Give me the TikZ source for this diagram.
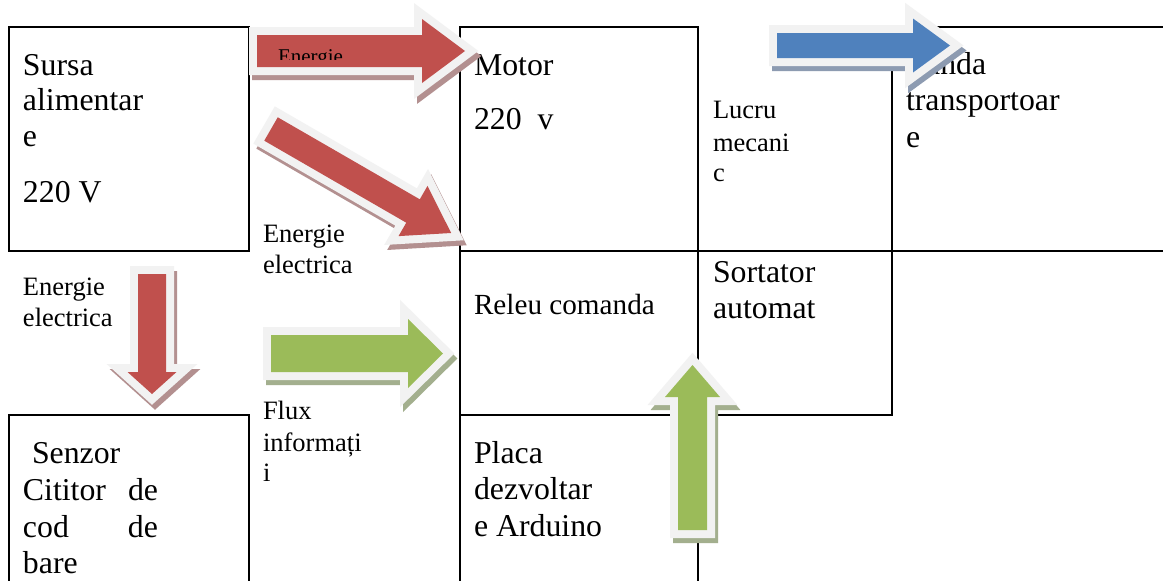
\documentclass[tikz,border=0pt]{standalone}
\usepackage{fontspec}
\setmainfont{Liberation Serif}
\definecolor{accred}{HTML}{C0504D}
\definecolor{accgreen}{HTML}{9BBB59}
\definecolor{accblue}{HTML}{4F81BD}
\definecolor{outl}{HTML}{F2F2F2}
\definecolor{shred}{HTML}{B39090}
\definecolor{shgreen}{HTML}{A3AF8E}
\definecolor{shblue}{HTML}{8D9BB1}
\newcommand\szbig{\fontsize{31.8pt}{36pt}\selectfont}
\newcommand\szmid{\fontsize{29.2pt}{34pt}\selectfont}
\newcommand\szsmall{\fontsize{26.5pt}{31pt}\selectfont}
\newcommand\sztiny{\fontsize{21pt}{24pt}\selectfont}
% polygon of a block arrow pointing along local +x, tail centre at origin
\newcommand\arrowpoly[5]{%
  \path[#1] (0,{-(#3)/2}) -- ({#2-(#5)},{-(#3)/2}) -- ({#2-(#5)},{-(#4)/2}) -- (#2,0)
    -- ({#2-(#5)},{(#4)/2}) -- ({#2-(#5)},{(#3)/2}) -- (0,{(#3)/2}) -- cycle;}
% #1 fill, #2 shadow, #3 #4 tail centre, #5 screen angle (clockwise), #6 length, #7 body width, #8 head width, #9 head length
\newcommand\blockarrow[9]{%
  \arrowpoly{draw=#2,fill=#2,line width=16pt,line join=miter,shift={({#3+3},{#4+5})},rotate={-(#5)}}{#6}{#7}{#8}{#9}
  \arrowpoly{draw=outl,fill=outl,line width=16pt,line join=miter,shift={(#3,#4)},rotate={-(#5)}}{#6}{#7}{#8}{#9}
  \arrowpoly{fill=#1,shift={(#3,#4)},rotate={-(#5)}}{#6}{#7}{#8}{#9}}
\begin{document}
\begin{tikzpicture}[x=1pt,y=-1pt,
  grid/.style={draw=black,line width=2pt},
  txt/.style={anchor=base west,inner sep=0pt,outer sep=0pt,font=\szbig},
  stxt/.style={txt,font=\szsmall}]
\useasboundingbox[fill=white] (0,0) rectangle (1163,581);
% table lines
\draw[grid] (9,27) rectangle (249,251);
\draw[grid] (9,582) -- (9,415) -- (249,415) -- (249,582);
\draw[grid] (460,582) -- (460,27) -- (698,27) -- (698,582);
\draw[grid] (460,251) -- (1164,251);
\draw[grid] (460,415) -- (892,415) -- (892,27) -- (1164,27);
% texts
\node[txt] (sursa1) at (23,75) {Sursa};
\node[txt] (sursa2) at (23,110) {alimentar};
\node[txt] (sursa3) at (23,146.5) {e};
\node[txt] (sursa4) at (23,202) {220 V};
\node[txt] (motor1) at (474,75) {Motor};
\node[txt] (motor2) at (474,129) {220~~v};
\node[txt] (banda1) at (905,74) {Banda};
\node[txt] (banda2) at (906,110) {transportoar};
\node[txt] (banda3) at (906,147) {e};
\node[stxt] (lucru1) at (713,118) {Lucru};
\node[stxt] (lucru2) at (713,151) {mecani};
\node[stxt] (lucru3) at (713,181) {c};
\node[txt] (sort1) at (713,282) {Sortator};
\node[txt] (sort2) at (713,318) {automat};
\node[txt,font=\szmid] (releu) at (474,314) {Releu comanda};
\node[txt] (placa1) at (474,463) {Placa};
\node[txt] (placa2) at (474,499) {dezvoltar};
\node[txt] (placa3) at (474,536) {e Arduino};
\node[txt] (senz1) at (32,463) {Senzor};
\node[txt] (senz2) at (23,500) {\makebox[135pt][s]{Cititor de}};
\node[txt] (senz3) at (23,537) {\makebox[135pt][s]{cod de}};
\node[txt] (senz4) at (23,573) {bare};
\node[stxt] (en1a) at (263,242) {Energie};
\node[stxt] (en1b) at (263,273) {electrica};
\node[stxt] (en2a) at (23,295) {Energie};
\node[stxt] (en2b) at (23,326) {electrica};
\node[stxt] (flux1) at (263,419) {Flux};
\node[stxt] (flux2) at (263,451) {informați};
\node[stxt] (flux3) at (263,481) {i};
% block arrows
\blockarrow{accred}{shred}{257}{51}{0}{208}{32}{64}{43}
\blockarrow{accred}{shred}{271}{129}{30}{208}{27}{58}{44}
\blockarrow{accred}{shred}{152}{274}{90}{120}{28}{49}{22}
\blockarrow{accgreen}{shgreen}{271}{353.5}{0}{172}{37}{69}{35}
\blockarrow{accgreen}{shgreen}{692.5}{530}{-90}{165}{29}{55}{32}
\blockarrow{accblue}{shblue}{777}{45.5}{0}{173}{25}{54}{37}
% clipped label inside the top arrow
\begin{scope}
\clip (257,35) rectangle (422,59);
\node[txt,font=\sztiny] (entop) at (278,63) {Energie};
\end{scope}
\end{tikzpicture}
\end{document}
